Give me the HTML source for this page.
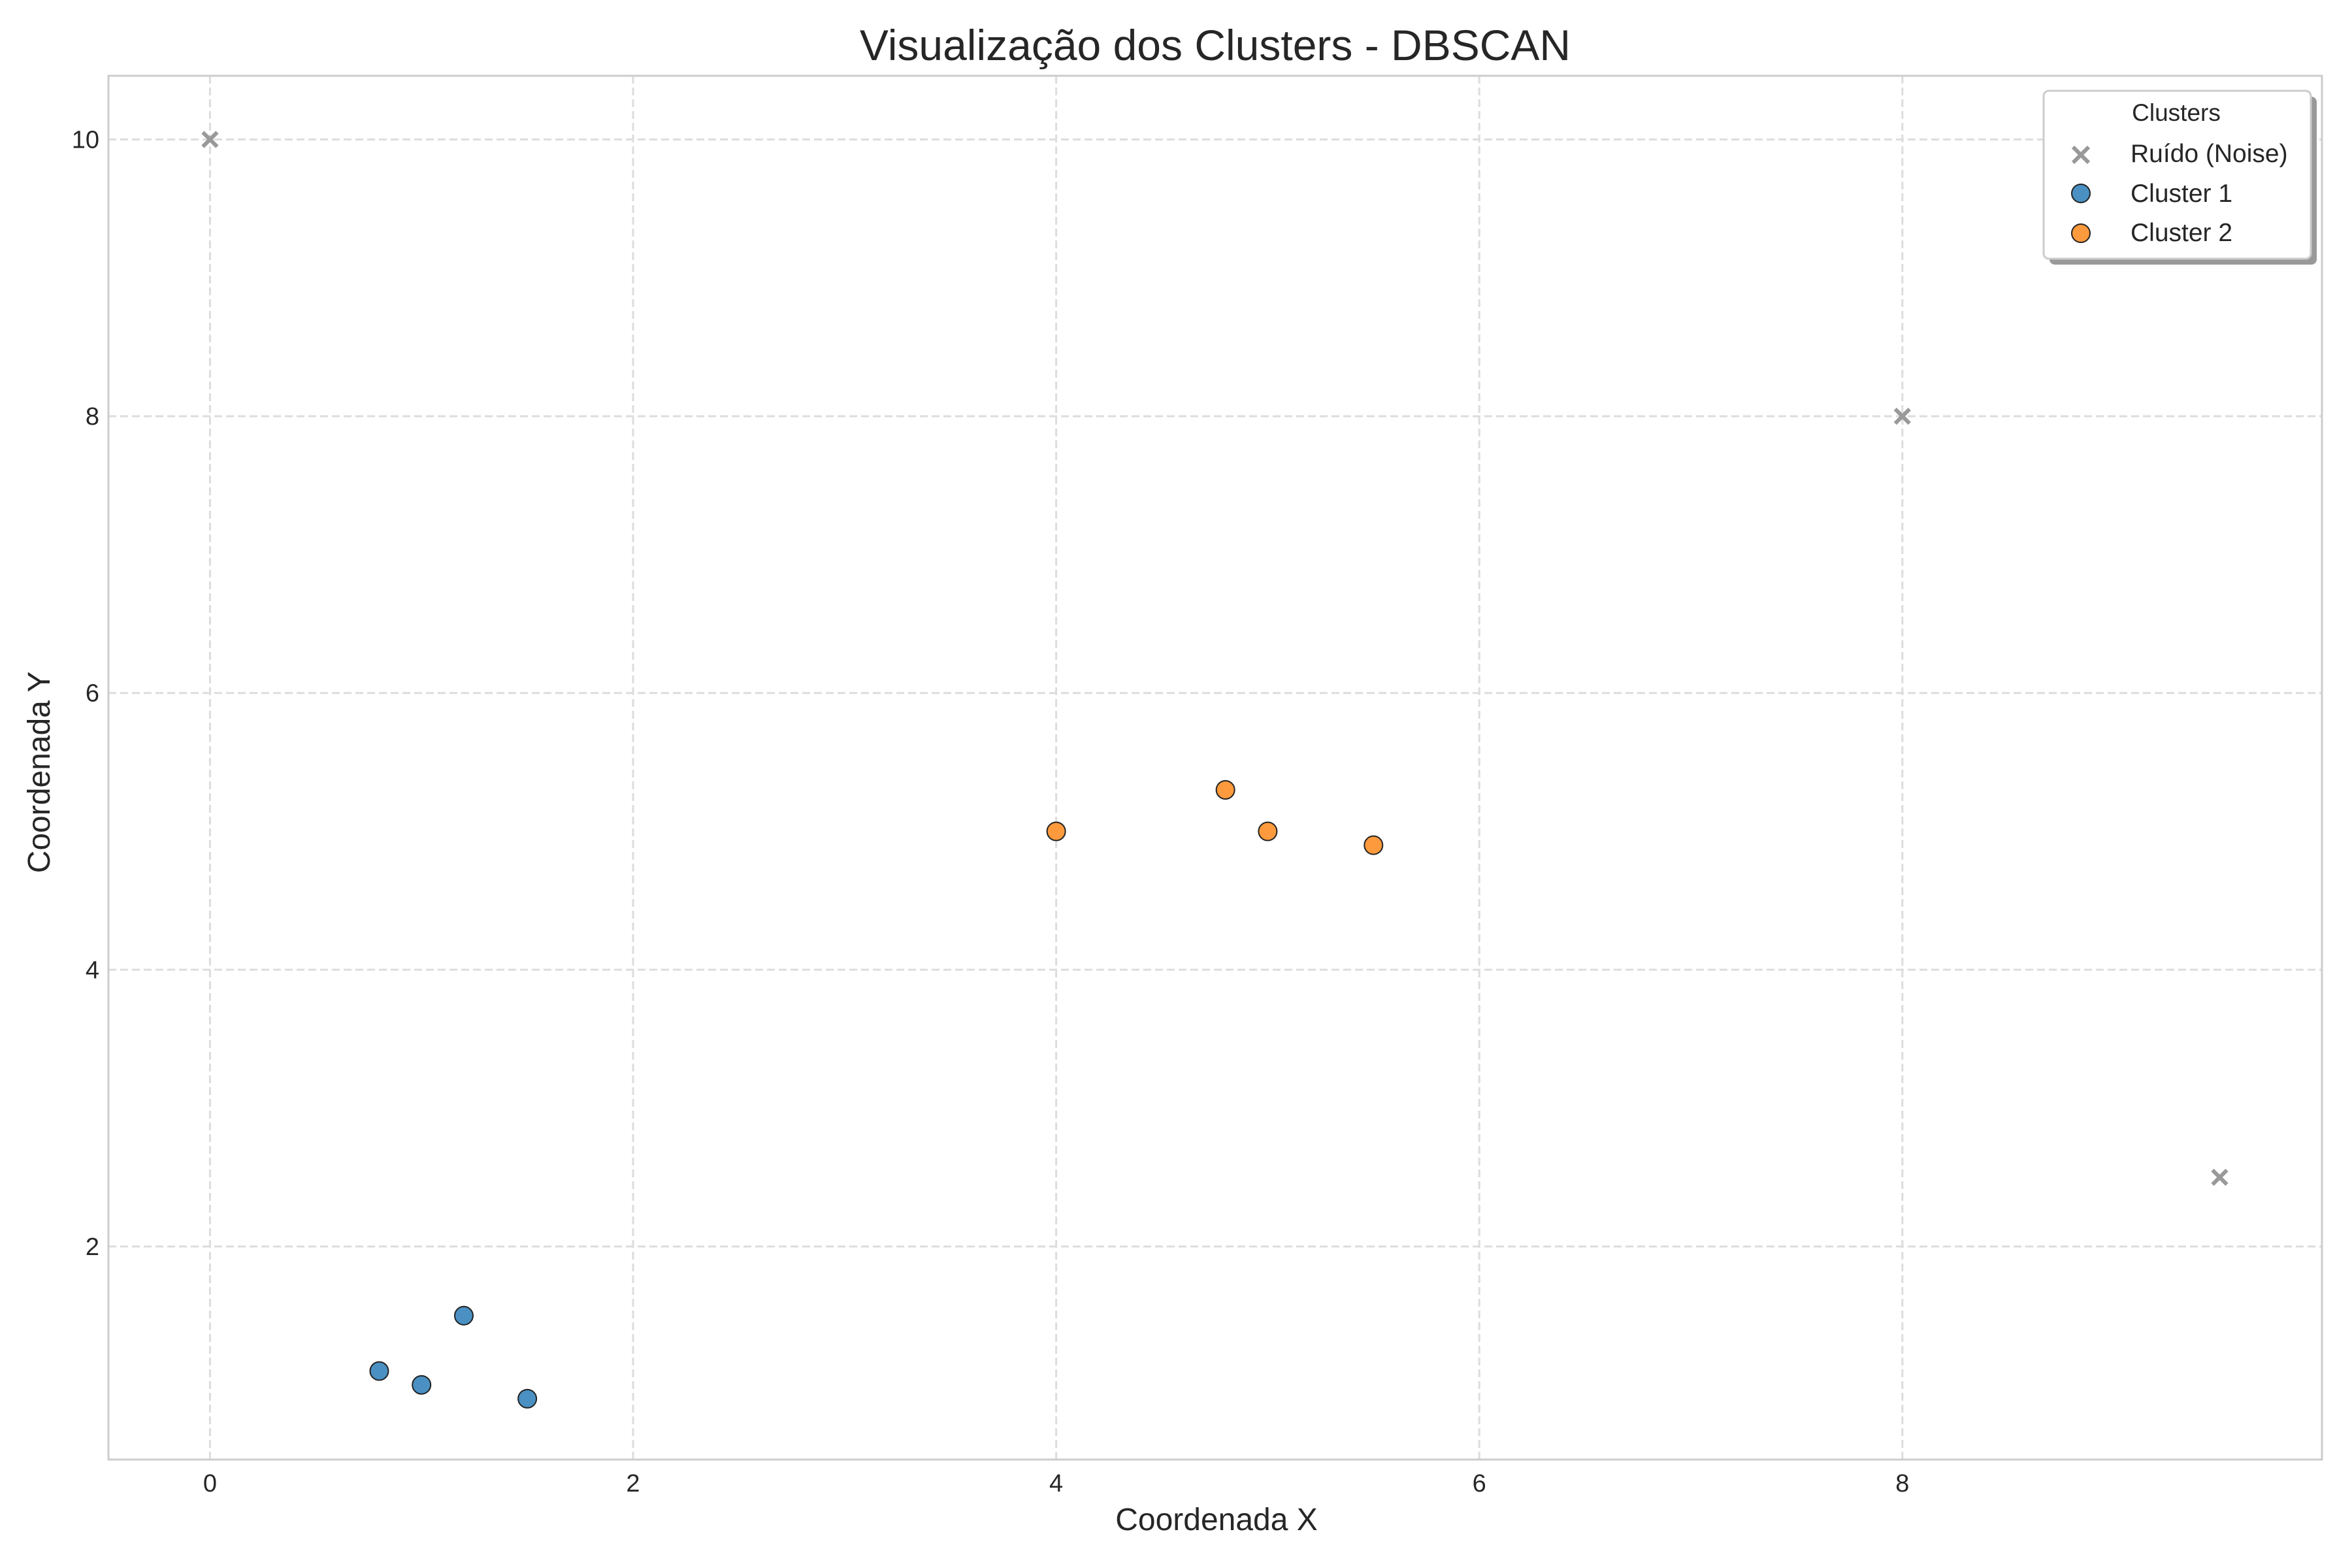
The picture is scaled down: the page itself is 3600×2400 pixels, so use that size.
<!DOCTYPE html>
<html><head><meta charset="utf-8"><style>
html,body{margin:0;padding:0;background:#fff;}
svg{display:block;font-family:"Liberation Sans",sans-serif;}
</style></head><body>
<svg id="chart" width="3600" height="2400" viewBox="0 0 3600 2400" xmlns="http://www.w3.org/2000/svg">
<rect width="3600" height="2400" fill="#fff"/>
<text x="1860" y="92" font-size="66" fill="#262626" text-anchor="middle">Visualização dos Clusters - DBSCAN</text>
<g id="grid"></g>
<g id="ticks"></g>
<rect x="166" y="116" width="3388" height="2118" fill="none" stroke="#cccccc" stroke-width="3"/>
<g id="marks"></g>
<text x="1862" y="2342" font-size="48" fill="#262626" text-anchor="middle">Coordenada X</text>
<text x="0" y="0" font-size="48" fill="#262626" text-anchor="middle" transform="translate(76,1182) rotate(-90)">Coordenada Y</text>
<g>
<rect x="3137" y="148" width="409" height="257" rx="8" fill="#999"/>
<rect x="3128" y="139" width="409" height="257" rx="8" fill="#fff" stroke="#cccccc" stroke-width="3"/>
<text x="3331" y="185" font-size="37" fill="#262626" text-anchor="middle">Clusters</text>
<g>
<path d="M3173 225 L3197 249 M3197 225 L3173 249" stroke="#999" stroke-width="6"/>
<text x="3261" y="248" font-size="39" fill="#262626">Ruído (Noise)</text></g>
<g>
<circle cx="3185" cy="296" r="14" fill="#4a90c2" stroke="#222" stroke-width="2"/>
<text x="3261" y="309" font-size="39" fill="#262626">Cluster 1</text></g>
<g>
<circle cx="3185" cy="357" r="14" fill="#fd9a3d" stroke="#222" stroke-width="2"/>
<text x="3261" y="369" font-size="39" fill="#262626">Cluster 2</text></g>
</g>
</svg>
<script>
const xTicks = [0, 2, 4, 6, 8];
const yTicks = [2, 4, 6, 8, 10];
const noiseX = [0, 8, 9.5];
const noiseY = [10, 8, 2.5];
const c1X = [0.8, 1.0, 1.2, 1.5];
const c1Y = [1.1, 1.0, 1.5, 0.9];
const c2X = [4.0, 4.8, 5.0, 5.5];
const c2Y = [5.0, 5.3, 5.0, 4.9];

const NS = 'http://www.w3.org/2000/svg';
function sx(v){ return 321.4 + v * 323.8; }
function sy(v){ return 2331.5 - v * 211.8; }
function mk(tag, attrs, parent){
  const e = document.createElementNS(NS, tag);
  for (const k in attrs) e.setAttribute(k, attrs[k]);
  parent.appendChild(e);
  return e;
}
const grid = document.getElementById('grid');
const ticks = document.getElementById('ticks');
const marks = document.getElementById('marks');
xTicks.forEach(t => {
  const l = mk('line', {x1: sx(t), x2: sx(t), y1: 116, y2: 2234, stroke: '#dddddd', 'stroke-width': 3, 'stroke-dasharray': '12 6'}, grid);
  
  
  const tx = mk('text', {x: sx(t), y: 2283, 'font-size': 38, fill: '#262626', 'text-anchor': 'middle'}, ticks);
  tx.textContent = t;
  
  
});
yTicks.forEach(t => {
  const l = mk('line', {x1: 166, x2: 3554, y1: sy(t), y2: sy(t), stroke: '#dddddd', 'stroke-width': 3, 'stroke-dasharray': '12 6'}, grid);
  
  
  const tx = mk('text', {x: 152, y: sy(t) + 13, 'font-size': 38, fill: '#262626', 'text-anchor': 'end'}, ticks);
  tx.textContent = t;
  
  
});
noiseX.forEach((x, i) => {
  const cx = sx(x), cy = sy(noiseY[i]), r = 11;
  const p = mk('path', {d: `M${cx-r} ${cy-r} L${cx+r} ${cy+r} M${cx+r} ${cy-r} L${cx-r} ${cy+r}`, stroke: '#999', 'stroke-width': 6}, marks);
  
  
});
c1X.forEach((x, i) => {
  const c = mk('circle', {cx: sx(x), cy: sy(c1Y[i]), r: 14, fill: '#4a90c2', stroke: '#222', 'stroke-width': 2}, marks);
  
  
});
c2X.forEach((x, i) => {
  const c = mk('circle', {cx: sx(x), cy: sy(c2Y[i]), r: 14, fill: '#fd9a3d', stroke: '#222', 'stroke-width': 2}, marks);
  
  
});
</script>
</body></html>
